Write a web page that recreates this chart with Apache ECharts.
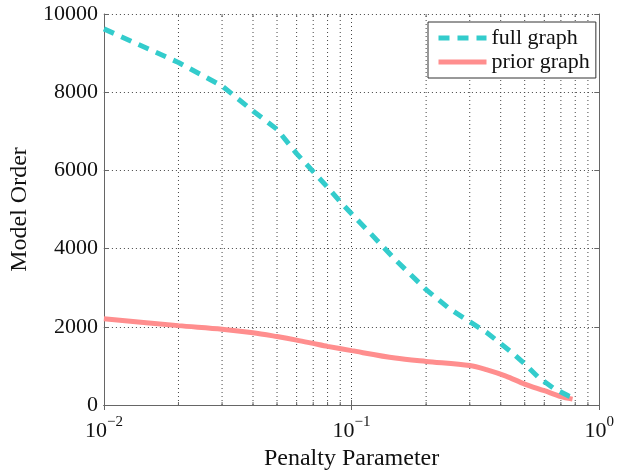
<!DOCTYPE html>
<html>
<head>
<meta charset="utf-8">
<script src="https://cdn.jsdelivr.net/npm/echarts@6/dist/echarts.min.js"></script>
<style>
  html, body { margin: 0; padding: 0; background: #fff; }
  #chart { width: 617px; height: 476px; }
</style>
</head>
<body>
<div id="chart"></div>
<script>
// Model order versus penalty parameter (log scale)
const fullX  = [0.01, 0.02, 0.03, 0.04, 0.05, 0.06, 0.07, 0.08, 0.09, 0.1, 0.12, 0.15, 0.2, 0.25, 0.3, 0.35, 0.4, 0.45, 0.5, 0.57, 0.65, 0.75, 0.79];
const fullY  = [9620, 8760, 8160, 7520, 7050, 6430, 5970, 5570, 5200, 4890, 4370, 3720, 2950, 2450, 2130, 1860, 1570, 1310, 1050, 700, 440, 235, 190];
const priorX = [0.01, 0.02, 0.03, 0.04, 0.05, 0.06, 0.07, 0.08, 0.1, 0.15, 0.2, 0.3, 0.35, 0.42, 0.5, 0.6, 0.7, 0.78];
const priorY = [2205, 2030, 1940, 1850, 1750, 1660, 1575, 1500, 1390, 1200, 1115, 1010, 905, 740, 535, 365, 215, 150];

// minor decade positions (2..9 x 10^k) for the dotted grid and small ticks
const minorX = [0.02, 0.03, 0.04, 0.05, 0.06, 0.07, 0.08, 0.09, 0.2, 0.3, 0.4, 0.5, 0.6, 0.7, 0.8, 0.9];

const xMin = 0.01, xMax = 1;
const yMin = 0, yMax = 10000, yStep = 2000;

const serif = '"Liberation Serif", "DejaVu Serif", serif';
const gridColor = '#444';
const gridDash = [1, 3];
const axisColor = '#666';

function zip(xs, ys) { return xs.map((x, i) => [x, ys[i]]); }

function powLabel(v) {
  const e = Math.round(Math.log10(v));
  const s = e < 0 ? '\u2212' + (-e) : String(e);
  return '{b|10}{s|' + s + '}';
}

const chart = echarts.init(document.getElementById('chart'), null, { renderer: 'canvas' });

chart.setOption({
  backgroundColor: '#fff',
  animation: false,
  grid: { left: 101, top: 14, width: 500, height: 397, containLabel: false },
  legend: {
    orient: 'vertical',
    left: 428, top: 22,
    data: ['full graph', 'prior graph'],
    itemWidth: 48, itemHeight: 14, itemGap: 2,
    padding: [5, 6, 5, 8],
    borderColor: '#333', borderWidth: 1,
    backgroundColor: '#fff',
    itemStyle: { opacity: 0 },
    lineStyle: { width: 5 },
    textStyle: { fontFamily: serif, fontSize: 22, color: '#111', lineHeight: 22 }
  },
  xAxis: [
    {
      type: 'log', logBase: 10, min: xMin, max: xMax,
      name: 'Penalty Parameter', nameLocation: 'middle', nameGap: 42,
      nameTextStyle: { fontFamily: serif, fontSize: 24, color: '#111' },
      axisLine: { show: true, lineStyle: { color: axisColor, width: 1 } },
      axisTick: { show: true, inside: true, length: 5, lineStyle: { color: axisColor } },
      axisLabel: {
        margin: 10,
        formatter: powLabel,
        rich: {
          b: { fontFamily: serif, fontSize: 22, color: '#111', lineHeight: 32 },
          s: { fontFamily: serif, fontSize: 15, color: '#111', lineHeight: 13, verticalAlign: 'top' }
        }
      },
      splitLine: { show: true, lineStyle: { color: gridColor, type: gridDash, width: 1 } },
      minorTick: { show: false }
    },
    {
      type: 'log', logBase: 10, min: xMin, max: xMax, position: 'top',
      axisLine: { show: true, lineStyle: { color: axisColor, width: 1 } },
      axisTick: { show: true, inside: true, length: 5, lineStyle: { color: axisColor } },
      axisLabel: { show: false },
      splitLine: { show: false }
    }
  ],
  yAxis: [
    {
      type: 'value', min: yMin, max: yMax, interval: yStep,
      name: 'Model Order', nameLocation: 'middle', nameGap: 70, nameRotate: 90,
      nameTextStyle: { fontFamily: serif, fontSize: 24, color: '#111' },
      axisLine: { show: true, lineStyle: { color: axisColor, width: 1 } },
      axisTick: { show: true, inside: true, length: 5, lineStyle: { color: axisColor } },
      axisLabel: { margin: 6, fontFamily: serif, fontSize: 22, color: '#111', formatter: v => String(v) },
      splitLine: { show: true, lineStyle: { color: gridColor, type: gridDash, width: 1 } }
    },
    {
      type: 'value', min: yMin, max: yMax, interval: yStep, position: 'right',
      axisLine: { show: true, lineStyle: { color: axisColor, width: 1 } },
      axisTick: { show: true, inside: true, length: 5, lineStyle: { color: axisColor } },
      axisLabel: { show: false },
      splitLine: { show: false }
    }
  ],
  series: [
    {
      // dotted minor grid lines with small inside ticks on both x edges
      type: 'custom',
      name: 'minor grid',
      xAxisIndex: 0, yAxisIndex: 0,
      silent: true, z: 1,
      data: minorX.map(x => [x, yMin]),
      renderItem: function (params, api) {
        const x = api.value(0);
        const pb = api.coord([x, yMin]);
        const pt = api.coord([x, yMax]);
        const tick = 3;
        return {
          type: 'group',
          children: [
            { type: 'line', shape: { x1: pb[0], y1: pb[1], x2: pt[0], y2: pt[1] },
              style: { stroke: gridColor, lineWidth: 1, lineDash: gridDash } },
            { type: 'line', shape: { x1: pb[0], y1: pb[1], x2: pb[0], y2: pb[1] - tick },
              style: { stroke: axisColor, lineWidth: 1 } },
            { type: 'line', shape: { x1: pt[0], y1: pt[1], x2: pt[0], y2: pt[1] + tick },
              style: { stroke: axisColor, lineWidth: 1 } }
          ]
        };
      }
    },
    {
      name: 'full graph',
      type: 'line',
      xAxisIndex: 0, yAxisIndex: 0,
      data: zip(fullX, fullY),
      symbol: 'none', z: 4,
      lineStyle: { color: '#33CCCC', width: 5, type: [11, 8], cap: 'butt' },
      itemStyle: { color: '#33CCCC' }
    },
    {
      name: 'prior graph',
      type: 'line',
      xAxisIndex: 0, yAxisIndex: 0,
      data: zip(priorX, priorY),
      symbol: 'none', smooth: 0.3, z: 3,
      lineStyle: { color: '#FF8E8E', width: 5 },
      itemStyle: { color: '#FF8E8E' }
    }
  ]
});
</script>
</body>
</html>
